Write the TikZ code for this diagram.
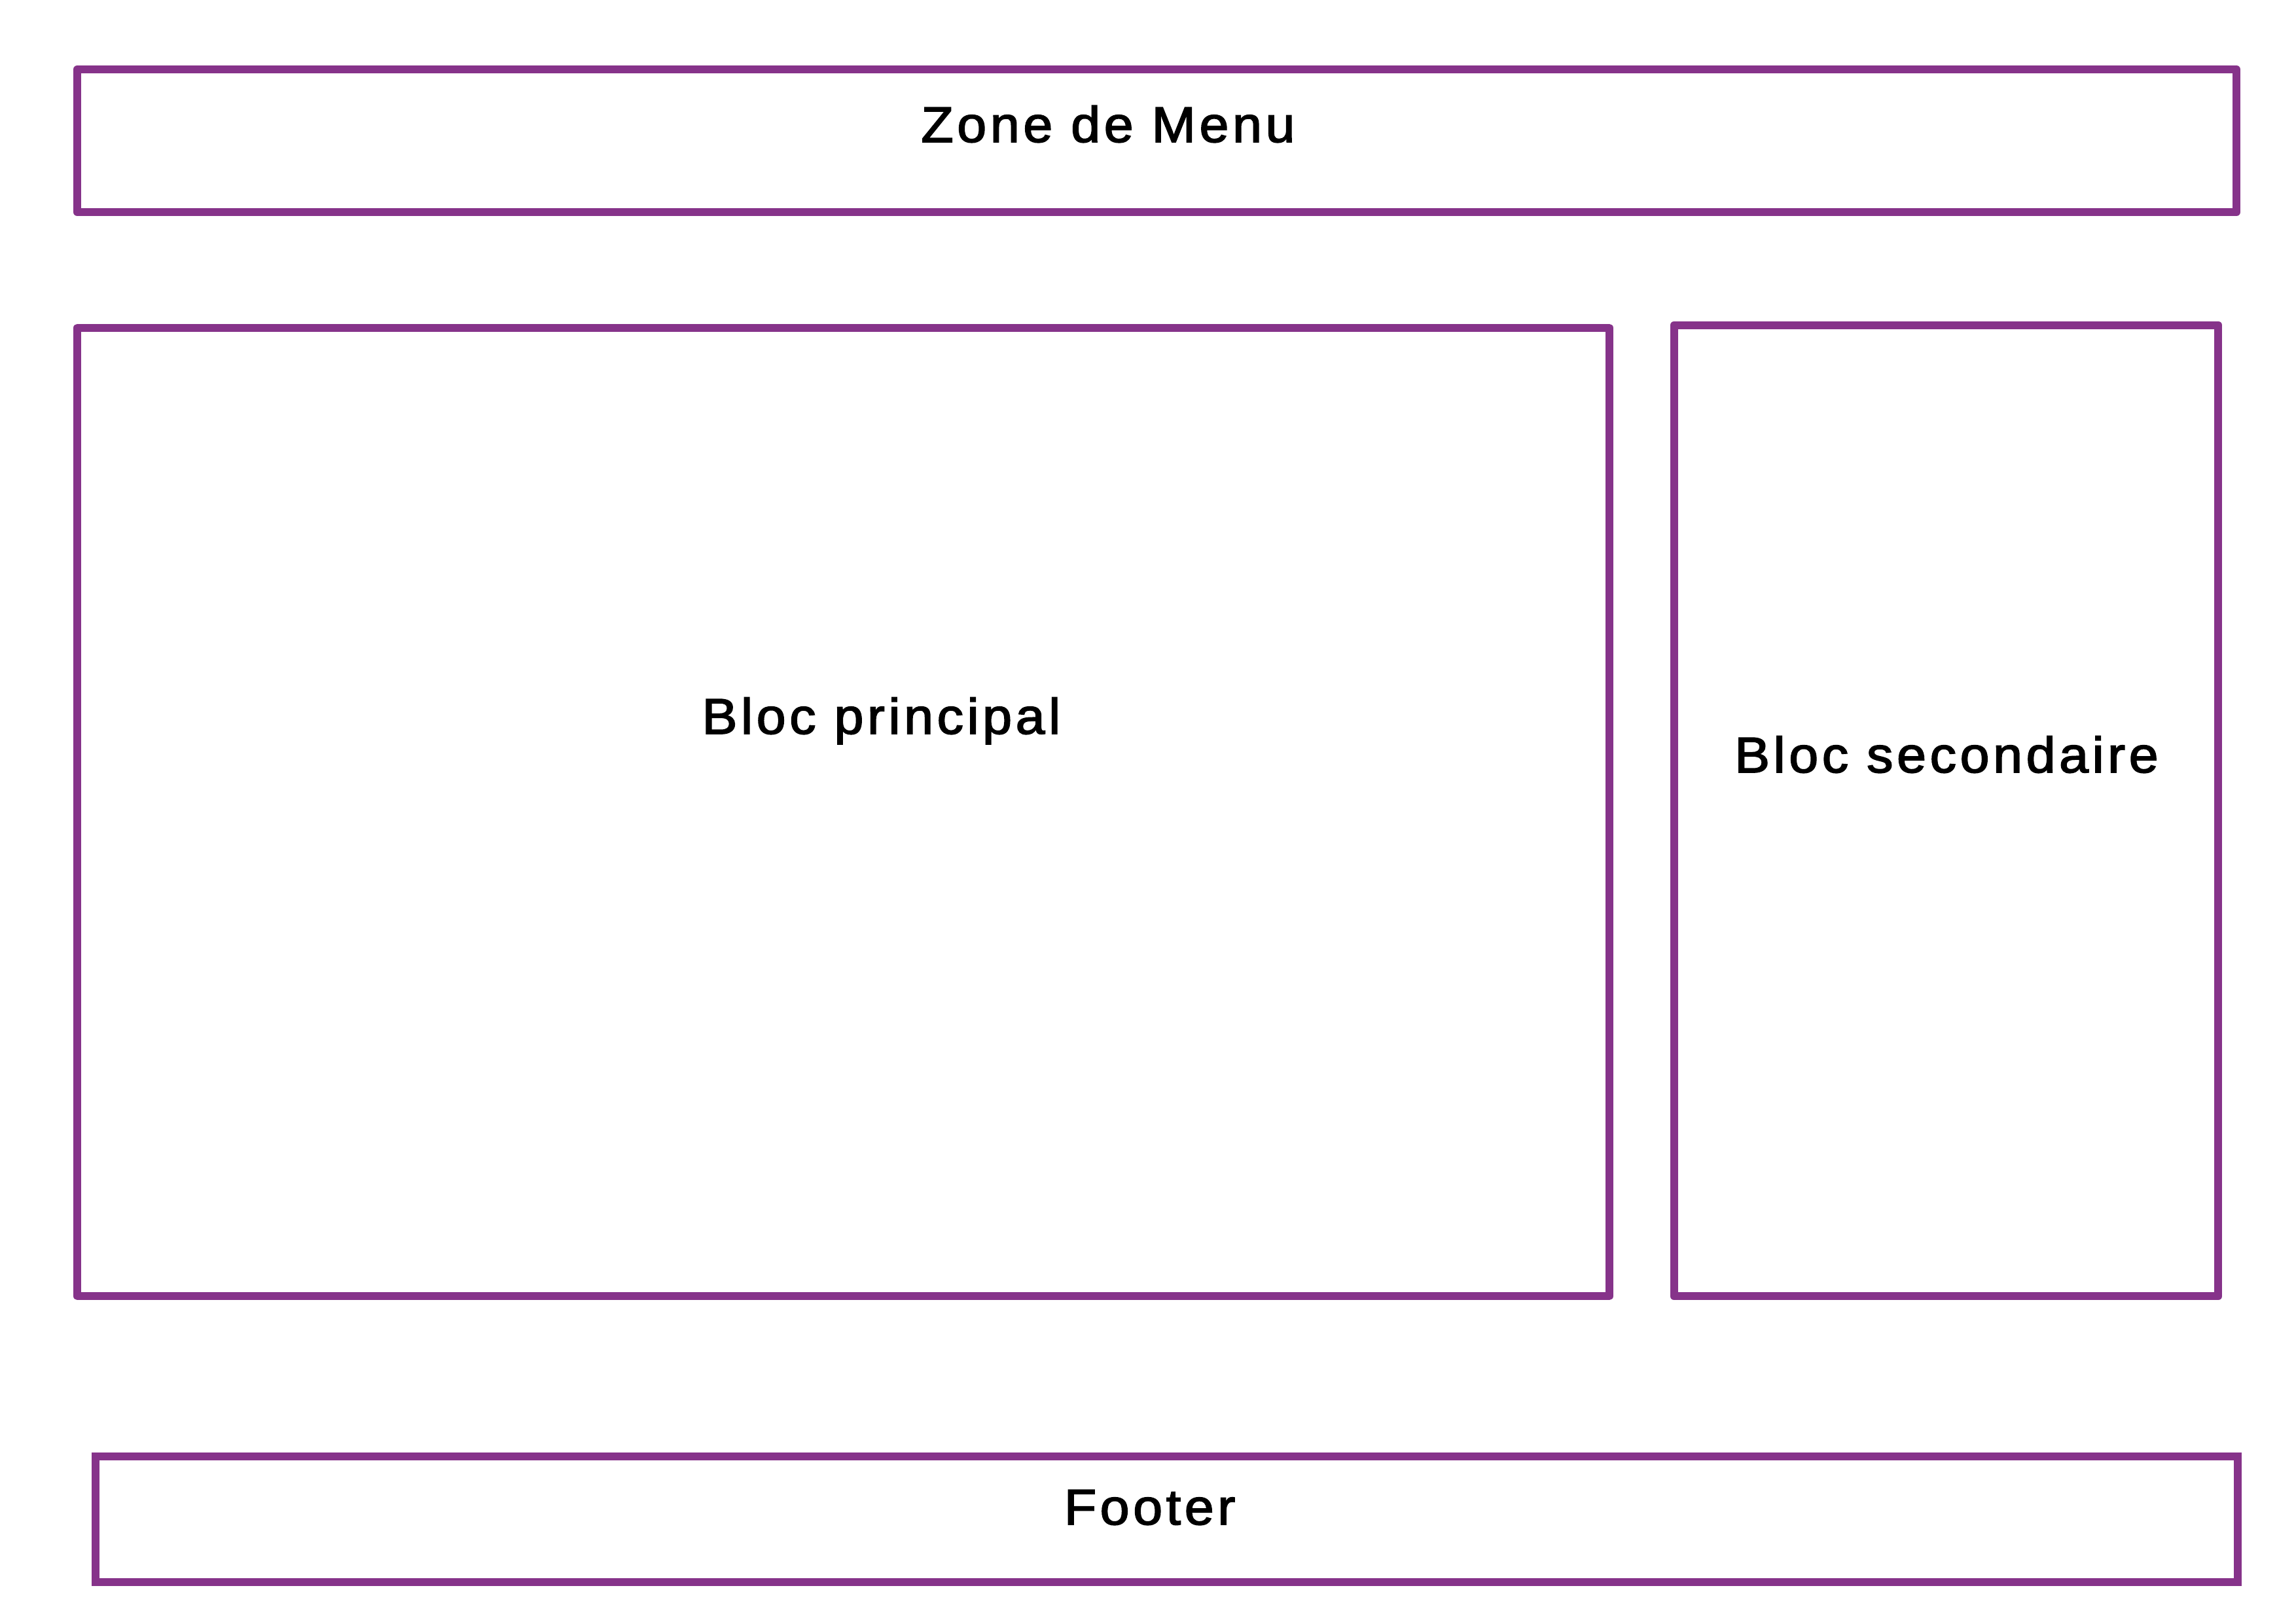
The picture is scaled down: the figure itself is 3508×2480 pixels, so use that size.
\documentclass[tikz,border=0pt]{standalone}
\usepackage{fontspec}
\newfontfamily\lblfont[LetterSpace=7,FakeBold=2.2]{Liberation Sans}
\definecolor{boxpurple}{RGB}{134,51,138}
\begin{document}
\begin{tikzpicture}[x=0.01cm,y=-0.01cm,
  zone/.style={draw=boxpurple, line width=0.12cm, line join=round, inner sep=0pt, fill=none},
  footzone/.style={draw=boxpurple, line width=0.12cm, line join=miter, inner sep=0pt, fill=none},
  lbl/.style={anchor=base, inner sep=0pt, font=\lblfont\fontsize{21.85}{26}\selectfont, text=black}]
\useasboundingbox (0,0) rectangle (3508,2480);
\node[zone, minimum width=32.97cm, minimum height=2.18cm] (menu) at (1767.5,215) {};
\node[zone, minimum width=23.39cm, minimum height=14.79cm] (principal) at (1288.5,1240.5) {};
\node[zone, minimum width=8.31cm, minimum height=14.83cm] (secondaire) at (2973.5,1238.5) {};
\node[footzone, minimum width=32.71cm, minimum height=1.92cm] (footer) at (1782.5,2321) {};
\node[lbl] (menutxt) at (1693,217) {\scalebox{1.05}[1]{Zone de Menu}};
\node[lbl] (principaltxt) at (1346.5,1121) {\scalebox{1.05}[1]{Bloc principal}};
\node[lbl] (secondairetxt) at (2974,1180) {\scalebox{1.05}[1]{Bloc secondaire}};
\node[lbl] (footertxt) at (1756.5,2329) {\scalebox{1.05}[1]{Footer}};
\end{tikzpicture}
\end{document}
